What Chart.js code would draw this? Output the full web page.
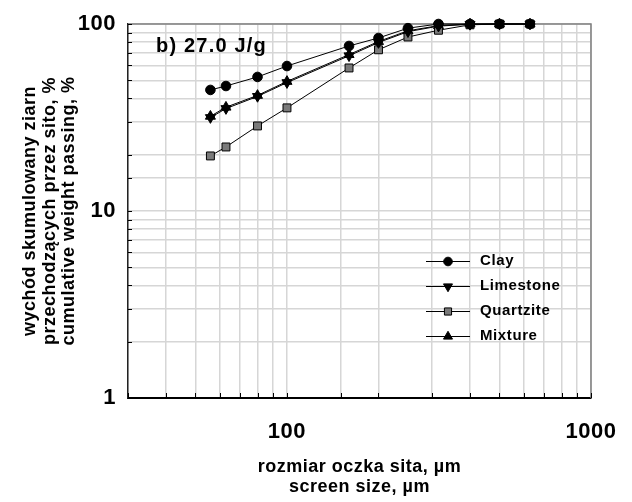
<!DOCTYPE html>
<html>
<head>
<meta charset="utf-8">
<script src="https://cdn.jsdelivr.net/npm/chart.js@4.4.1/dist/chart.umd.min.js"></script>
<style>
  body { margin: 0; background: #fff; }
  #wrap { width: 632px; height: 502px; }
</style>
</head>
<body>
<div id="wrap"><canvas id="sieveChart" width="632" height="502"></canvas></div>
<script>
// sieve openings, um
const sizes = [56, 63, 80, 100, 160, 200, 250, 315, 400, 500, 630];

// cumulative passing, %
const clay      = [44.4, 46.6, 52.1, 59.6, 76.3, 84.2, 95.0, 100, 100, 100, 100];
const limestone = [31.6, 35.3, 41.0, 48.6, 67.6, 79.6, 91.0, 97.4, 99.6, 100, 100];
const quartzite = [19.7, 22.0, 28.5, 35.6, 58.2, 72.8, 85.2, 92.6, 99.0, 100, 100];
const mixture   = [32.1, 35.9, 41.5, 49.3, 68.6, 80.6, 92.0, 98.0, 100, 100, 100];

const xTickLabels = [100, 1000];
const yTickLabels = [1, 10, 100];

const FONT = '"Liberation Sans", Arial, sans-serif';

const toPoints = vals => sizes.map((s, i) => ({ x: s, y: vals[i] }));

const series = [
    { label: 'Clay', data: clay, pointStyle: 'circle', radius: 4.8, fill: '#000', rotation: 0 },
    { label: 'Limestone', data: limestone, pointStyle: 'triangle', radius: 5.8, fill: '#000', rotation: 180 },
    { label: 'Quartzite', data: quartzite, pointStyle: 'rect', radius: 5.6, fill: '#7a7a7a', rotation: 0 },
    { label: 'Mixture', data: mixture, pointStyle: 'triangle', radius: 5.8, fill: '#000', rotation: 0 }
];

// frame, inward ticks, legend and the energy note
const decorations = {
    id: 'decorations',
    beforeDraw(chart) {
        chart.ctx.letterSpacing = '0.5px';
    },
    beforeDatasetsDraw(chart) {
        const { ctx, chartArea: a } = chart;
        ctx.save();
        ctx.strokeStyle = '#808080';
        ctx.lineWidth = 1.5;
        ctx.beginPath();
        ctx.moveTo(a.left, a.top);
        ctx.lineTo(a.right, a.top);
        ctx.lineTo(a.right, a.bottom);
        ctx.stroke();

        // short inward ticks on left and bottom axes
        ctx.strokeStyle = '#000';
        ctx.lineWidth = 1;
        const ys = chart.scales.y, xs = chart.scales.x;
        ys.ticks.forEach(t => {
            const p = Math.round(ys.getPixelForValue(t.value)) + 0.5;
            ctx.beginPath();
            ctx.moveTo(a.left, p);
            ctx.lineTo(a.left + 4, p);
            ctx.stroke();
        });
        xs.ticks.forEach(t => {
            const p = Math.round(xs.getPixelForValue(t.value)) + 0.5;
            ctx.beginPath();
            ctx.moveTo(p, a.bottom);
            ctx.lineTo(p, a.bottom - 5);
            ctx.stroke();
        });
        ctx.restore();
    },
    afterDraw(chart) {
        const ctx = chart.ctx;
        ctx.save();
        ctx.fillStyle = '#000';
        ctx.textBaseline = 'middle';
        ctx.textAlign = 'left';

        ctx.font = 'bold 20px ' + FONT;
        ctx.letterSpacing = '1.2px';
        ctx.fillText('b) 27.0 J/g', 156, 46);

        // legend
        ctx.font = 'bold 15px ' + FONT;
        ctx.letterSpacing = '0.6px';
        const rows = [261, 286, 311, 336];
        series.forEach((s, i) => {
            const y = rows[i];
            ctx.strokeStyle = '#000';
            ctx.lineWidth = 1;
            ctx.beginPath();
            ctx.moveTo(426, y + 0.5);
            ctx.lineTo(470, y + 0.5);
            ctx.stroke();
            ctx.fillStyle = s.fill;
            Chart.helpers.drawPoint(ctx, {
                pointStyle: s.pointStyle,
                radius: s.radius * 0.9,
                rotation: s.rotation,
                borderWidth: 1
            }, 448, y + 0.5);
            ctx.fillStyle = '#000';
            ctx.fillText(s.label, 480, y);
        });
        ctx.restore();
    }
};

new Chart(document.getElementById('sieveChart'), {
    type: 'line',
    data: {
        datasets: series.map(s => ({
            label: s.label,
            data: toPoints(s.data),
            borderColor: '#000',
            borderWidth: 1,
            backgroundColor: s.fill,
            pointBackgroundColor: s.fill,
            pointBorderColor: '#000',
            pointBorderWidth: 1,
            pointStyle: s.pointStyle,
            pointRadius: s.radius,
            pointRotation: s.rotation,
            tension: 0,
            clip: false
        }))
    },
    plugins: [decorations],
    options: {
        responsive: false,
        animation: false,
        events: [],
        layout: { padding: { top: 24, right: 41, left: 0, bottom: 0 } },
        plugins: { legend: { display: false }, tooltip: { enabled: false } },
        scales: {
            x: {
                type: 'logarithmic',
                position: 'bottom',
                min: 30,
                max: 1000,
                afterFit: s => { s.height = 104; s.paddingLeft = 0; s.paddingRight = 0; },
                grid: { color: '#d6d6d6', lineWidth: 1.5, drawTicks: false },
                border: { color: '#000', width: 2 },
                ticks: {
                    autoSkip: false,
                    maxRotation: 0,
                    padding: 21,
                    color: '#000',
                    font: { family: FONT, size: 22, weight: 'bold' },
                    callback: v => xTickLabels.includes(Math.round(v)) && Math.abs(v - Math.round(v)) < 1e-6 ? String(Math.round(v)) : ''
                },
                title: {
                    display: true,
                    text: ['rozmiar oczka sita, µm', 'screen size, µm'],
                    color: '#000',
                    padding: { top: 0, bottom: 5 },
                    font: { family: FONT, size: 18, weight: 'bold', lineHeight: 1.1 }
                }
            },
            y: {
                type: 'logarithmic',
                position: 'left',
                min: 1,
                max: 100,
                afterFit: s => { s.width = 128; s.paddingTop = 0; s.paddingBottom = 0; },
                grid: { color: '#d6d6d6', lineWidth: 1.5, drawTicks: false },
                border: { color: '#222', width: 1.5 },
                ticks: {
                    autoSkip: false,
                    padding: 12,
                    color: '#000',
                    font: { family: FONT, size: 22, weight: 'bold' },
                    callback: v => yTickLabels.includes(Math.round(v)) && Math.abs(v - Math.round(v)) < 1e-6 ? String(Math.round(v)) : ''
                },
                title: {
                    display: true,
                    text: ['wychód skumulowany ziarn', 'przechodzących przez sito, %', 'cumulative weight passing, %'],
                    color: '#000',
                    padding: { top: 20, bottom: 0 },
                    font: { family: FONT, size: 18, weight: 'bold', lineHeight: 1.1 }
                }
            }
        }
    }
});
</script>
</body>
</html>
